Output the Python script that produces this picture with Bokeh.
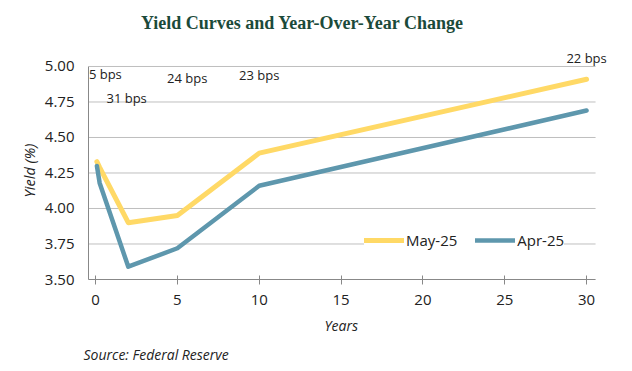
from bokeh.plotting import figure
from bokeh.models import (ColumnDataSource, Label, Legend, LegendItem, Title,
                          FixedTicker, NumeralTickFormatter, Range1d)
from bokeh.embed import file_html
from bokeh.resources import INLINE

# ---- data ----
maturities = [0.083, 0.25, 2, 5, 10, 30]
may25 = [4.33, 4.29, 3.90, 3.95, 4.39, 4.91]
apr25 = [4.30, 4.18, 3.59, 3.72, 4.16, 4.69]
bps_text = ["5 bps", "31 bps", "24 bps", "23 bps", "22 bps"]
bps_x = [0.6, 1.9, 5.6, 10, 30]
bps_y = [4.95, 4.78, 4.92, 4.94, 5.06]
x_ticks = [0, 5, 10, 15, 20, 25, 30]
y_ticks = [3.50, 3.75, 4.00, 4.25, 4.50, 4.75, 5.00]

YELLOW = "#FFD966"
BLUE = "#5E97AD"
FONT = "Open Sans"
TXT = "#222222"
X_BOUNDS = (-0.43, 30.55)
Y_BOUNDS = (3.5, 5.0)

p = figure(width=616, height=370, output_backend="svg", toolbar_location=None,
           title_location=None,
           x_range=Range1d(-0.43, 31.34), y_range=Range1d(3.5, 5.4577),
           min_border_left=88, min_border_right=8, min_border_top=1,
           min_border_bottom=91)
p.outline_line_color = None
p.background_fill_color = "white"
p.border_fill_color = "white"

# horizontal gridlines, limited to the axis extent
p.segment(x0=X_BOUNDS[0], x1=X_BOUNDS[1], y0=y_ticks, y1=y_ticks,
          line_color="#BFBFBF", line_width=1)
p.xgrid.grid_line_color = None
p.ygrid.grid_line_color = None

src = ColumnDataSource(dict(x=maturities, may=may25, apr=apr25))
r_may = p.line("x", "may", source=src, line_color=YELLOW, line_width=5,
               line_cap="round", line_join="round")
r_apr = p.line("x", "apr", source=src, line_color=BLUE, line_width=4.5,
               line_cap="round", line_join="round")

# axes
p.xaxis.ticker = FixedTicker(ticks=x_ticks)
p.yaxis.ticker = FixedTicker(ticks=y_ticks)
p.yaxis.formatter = NumeralTickFormatter(format="0.00")
p.xaxis.bounds = X_BOUNDS
p.yaxis.bounds = Y_BOUNDS
for ax in (p.xaxis[0], p.yaxis[0]):
    ax.axis_line_color = "#888888"
    ax.major_tick_line_color = "#888888"
    ax.minor_tick_line_color = None
    ax.major_label_text_font = FONT
    ax.major_label_text_font_size = "15px"
    ax.major_label_text_color = TXT
p.xaxis.major_tick_in = 4
p.xaxis.major_tick_out = 5
p.xaxis.major_label_standoff = 10
p.yaxis.major_tick_in = 0
p.yaxis.major_tick_out = 0
p.yaxis.major_label_standoff = 14

# bps change labels
for t, x, y in zip(bps_text, bps_x, bps_y):
    p.add_layout(Label(x=x, y=y, text=t, text_align="center",
                       text_baseline="middle", text_font=FONT,
                       text_font_size="13px", text_color=TXT))

# legend
legend = Legend(items=[LegendItem(label="May-25", renderers=[r_may]),
                       LegendItem(label="Apr-25", renderers=[r_apr])],
                orientation="horizontal", location=(276, 29),
                glyph_width=40, glyph_height=20, label_standoff=2, spacing=18,
                padding=10, margin=0, border_line_color=None,
                background_fill_color="white", background_fill_alpha=1.0,
                label_text_font=FONT, label_text_font_size="15px",
                label_text_color=TXT)
p.add_layout(legend)

# chart title (inside the frame area, above the axis extent)
p.add_layout(Label(x=214, y=257, x_units="screen", y_units="screen",
                   text="Yield Curves and Year-Over-Year Change",
                   text_align="center", text_baseline="middle",
                   text_font="Liberation Serif", text_font_style="bold",
                   text_font_size="18px", text_color="#1B4A3A"))

# y-axis caption, centred on the axis extent rather than the whole frame
p.add_layout(Title(text="Yield (%)", align="left", offset=82, standoff=6,
                   vertical_align="bottom", text_font=FONT,
                   text_font_style="italic", text_font_size="14.5px",
                   text_color=TXT), "left")

# x-axis caption and source below
p.add_layout(Title(text="Years", align="left", offset=236, standoff=16,
                   vertical_align="top", text_font=FONT,
                   text_font_style="italic", text_font_size="14px",
                   text_color=TXT), "below")
p.add_layout(Title(text="Source: Federal Reserve", align="left", offset=-5,
                   standoff=0, vertical_align="top", text_font=FONT,
                   text_font_style="italic", text_font_size="14px",
                   text_color=TXT), "below")

open("out.html", "w").write(file_html(p, INLINE))
